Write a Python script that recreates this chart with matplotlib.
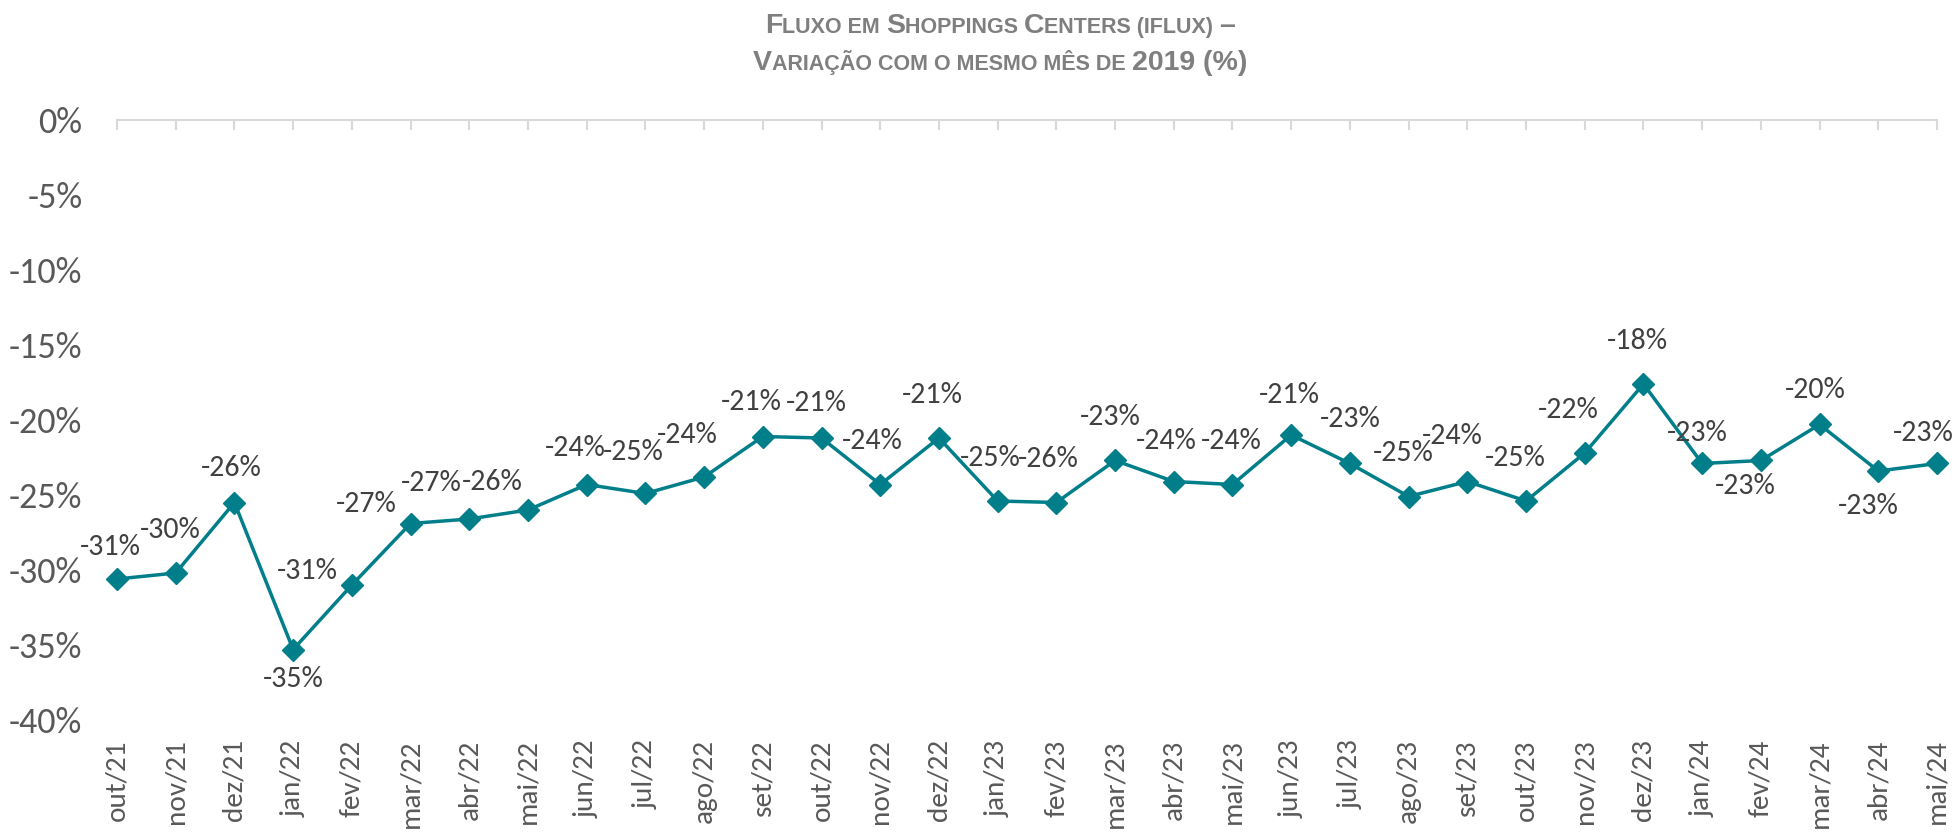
import matplotlib
matplotlib.use("Agg")
import matplotlib.pyplot as plt
from matplotlib import font_manager

months = ["out/21", "nov/21", "dez/21", "jan/22", "fev/22", "mar/22", "abr/22", "mai/22",
          "jun/22", "jul/22", "ago/22", "set/22", "out/22", "nov/22", "dez/22", "jan/23",
          "fev/23", "mar/23", "abr/23", "mai/23", "jun/23", "jul/23", "ago/23", "set/23",
          "out/23", "nov/23", "dez/23", "jan/24", "fev/24", "mar/24", "abr/24", "mai/24"]
values = [-30.6, -30.2, -25.5, -35.3, -31.0, -26.9, -26.6, -26.0,
          -24.3, -24.9, -23.8, -21.1, -21.2, -24.3, -21.2, -25.4,
          -25.5, -22.7, -24.1, -24.3, -21.0, -22.9, -25.1, -24.1,
          -25.4, -22.2, -17.6, -22.9, -22.7, -20.3, -23.4, -22.9]
labels = ["-31%", "-30%", "-26%", "-35%", "-31%", "-27%", "-27%", "-26%",
          "-24%", "-25%", "-24%", "-21%", "-21%", "-24%", "-21%", "-25%",
          "-26%", "-23%", "-24%", "-24%", "-21%", "-23%", "-25%", "-24%",
          "-25%", "-22%", "-18%", "-23%", "-23%", "-20%", "-23%", "-23%"]
yticks = [0, -5, -10, -15, -20, -25, -30, -35, -40]
ytick_labels = ["0%", "-5%", "-10%", "-15%", "-20%", "-25%", "-30%", "-35%", "-40%"]

# label offsets (points) relative to each marker
offsets = [(-4.5, 23), (-3.6, 31), (-2, 25), (0, -21), (-32, 10), (-32, 14), (-27, 26), (-26, 20),
           (-8, 26), (-9, 30), (-12, 30), (-8, 25), (-3.5, 25), (-6, 31), (-4.5, 31), (-5.5, 31),
           (-6, 31), (-3.6, 31), (-5.5, 29), (-1, 31), (-1, 29), (0, 32), (-3.5, 31), (-11, 33),
           (-8, 31), (-12, 31), (-4.5, 31), (-3.6, 22), (-11, -18), (-3, 25), (-7, -25), (-10, 22)]

avail = {f.name for f in font_manager.fontManager.ttflist}
def pick(*names):
    for n in names:
        if n in avail:
            return n
    return "DejaVu Sans"

num_font = pick("Carlito", "Lato", "Open Sans")
title_font = pick("Liberation Sans Narrow", "Arial Narrow", "Liberation Sans")

W, H = 1957, 838
fig = plt.figure(figsize=(W / 100, H / 100), dpi=100)
left, right = 117 / W, 1937 / W
top, bottom = 1 - 120 / H, 1 - 720 / H
ax = fig.add_axes([left, bottom, right - left, top - bottom])

color = "#007E8A"
x = list(range(len(months)))
ax.plot(x, values, color=color, lw=2.5, marker="D", markersize=11.5, zorder=3, clip_on=False)

for xi, v, lab, (dx, dy) in zip(x, values, labels, offsets):
    ax.annotate(lab, (xi, v), xytext=(dx, dy), textcoords="offset points",
                ha="center", va="center", fontsize=21.5, color="#404040",
                family=num_font, zorder=4)

ax.set_xlim(0, len(months) - 1)
ax.set_ylim(-40, 0)
ax.set_yticks(yticks)
ax.set_yticklabels(ytick_labels, family=num_font, fontsize=26, color="#595959")
ax.tick_params(axis="y", length=0, pad=25)

ax.set_xticks(x)
ax.set_xticklabels(months, rotation=90, fontsize=21, color="#595959", family=num_font)
ax.tick_params(axis="x", top=True, bottom=False, labeltop=False, labelbottom=True,
               direction="in", length=7.5, width=1.5, color="#D9D9D9", pad=14)

for s in ["left", "right", "bottom"]:
    ax.spines[s].set_visible(False)
ax.spines["top"].set_color("#D9D9D9")
ax.spines["top"].set_linewidth(1.5)
ax.spines["top"].set_zorder(1)

# small caps title
renderer = fig.canvas.get_renderer()
def smallcaps_line(segments, cx, cy):
    texts = []
    for s, big in segments:
        t = fig.text(0, cy / H, s, fontsize=20.5 if big else 15.5, fontweight="bold",
                     color="#7F7F7F", family=title_font, ha="left", va="baseline",
                     transform=fig.transFigure)
        texts.append(t)
    widths = [t.get_window_extent(renderer).width for t in texts]
    total = sum(widths)
    xpos = cx - total / 2
    for t, w in zip(texts, widths):
        t.set_x(xpos / W)
        xpos += w

line1 = [("F", True), ("LUXO EM ", False), ("S", True), ("HOPPINGS ", False),
         ("C", True), ("ENTERS (IFLUX) ", False), ("–", True)]
line2 = [("V", True), ("ARIAÇÃO COM O MESMO MÊS DE ", False), ("2019 (%)", True)]
smallcaps_line(line1, 1000, H - 33)
smallcaps_line(line2, 1000, H - 70)

fig.savefig("out.png", dpi=100)
